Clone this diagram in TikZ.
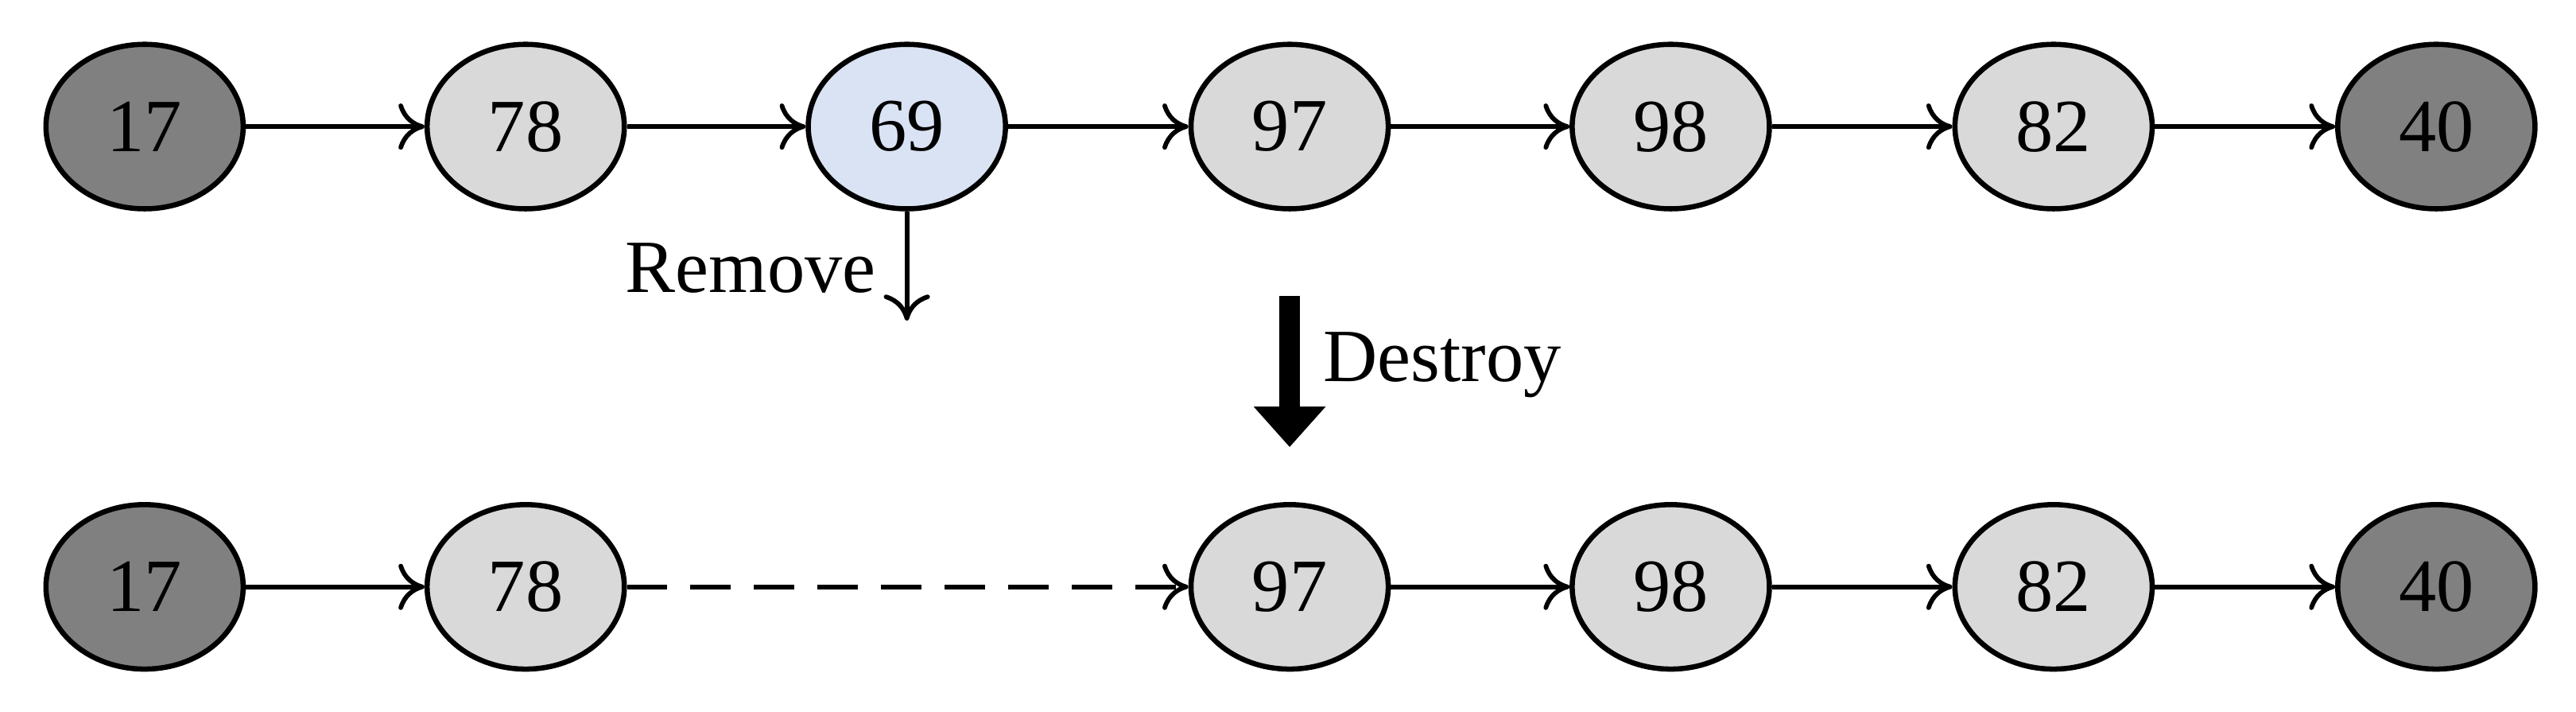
\documentclass[tikz,border=0pt]{standalone}
\usepackage{fontspec}
\setmainfont{Liberation Serif}
\usetikzlibrary{shapes.geometric,arrows.meta}
\definecolor{dk}{HTML}{808080}
\definecolor{lt}{HTML}{D9D9D9}
\definecolor{bl}{HTML}{DAE3F3}
\begin{document}
\begin{tikzpicture}[x=0.01cm,y=-0.01cm,
  nd/.style={ellipse,draw=black,line width=0.9pt,minimum width=1.2cm,minimum height=1.0cm,inner sep=0pt,font=\fontsize{13}{13}\selectfont},
  ar/.style={-{To[length=4.5pt,width=8pt]},line width=0.8pt}]
\useasboundingbox (0,0) rectangle (1568,433);
\node[nd,fill=dk] (a) at (88,77) {17};
\node[nd,fill=lt] (b) at (320,77) {78};
\node[nd,fill=bl] (c) at (552,77) {69};
\node[nd,fill=lt] (d) at (785,77) {97};
\node[nd,fill=lt] (e) at (1017,77) {98};
\node[nd,fill=lt] (f) at (1250,77) {82};
\node[nd,fill=dk] (g) at (1483,77) {40};
\foreach \u/\v in {a/b,b/c,c/d,d/e,e/f,f/g} \draw[ar] (\u) -- (\v);
\node[nd,fill=dk] (a2) at (88,357) {17};
\node[nd,fill=lt] (b2) at (320,357) {78};
\node[nd,fill=lt] (d2) at (785,357) {97};
\node[nd,fill=lt] (e2) at (1017,357) {98};
\node[nd,fill=lt] (f2) at (1250,357) {82};
\node[nd,fill=dk] (g2) at (1483,357) {40};
\foreach \u/\v in {a2/b2,d2/e2,e2/f2,f2/g2} \draw[ar] (\u) -- (\v);
\draw[ar,dash pattern=on 7pt off 4pt] (b2) -- (d2);
\coordinate (r) at (552,195);
\draw[ar] (c) -- (r);
\node[font=\fontsize{13}{13}\selectfont] (rl) at (457,163) {Remove};
\coordinate (s1) at (785,180);
\coordinate (s2) at (785,272);
\draw[line width=3.5pt,-{Triangle[length=7pt,width=12pt]}] (s1) -- (s2);
\node[font=\fontsize{13}{13}\selectfont] (dl) at (878,222) {Destroy};
\end{tikzpicture}
\end{document}
